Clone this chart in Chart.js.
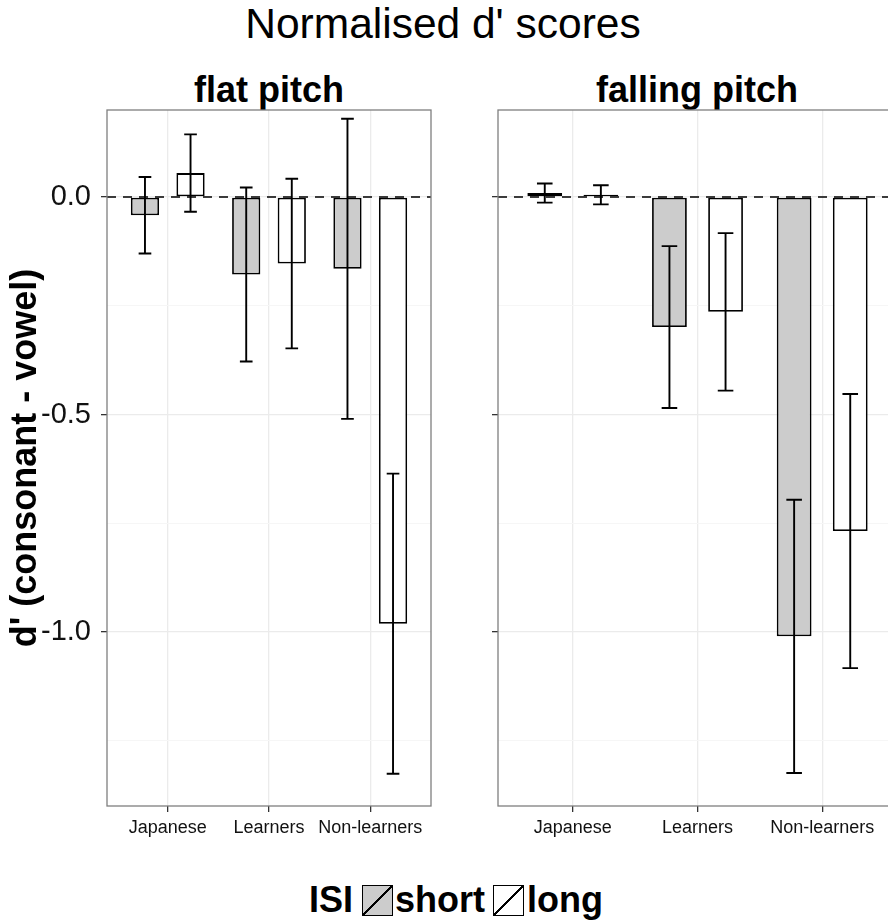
<!DOCTYPE html>
<html>
<head>
<meta charset="utf-8">
<script src="https://cdn.jsdelivr.net/npm/chart.js@4"></script>
<style>
  html, body { margin: 0; padding: 0; background: #fff; }
  body { width: 888px; height: 920px; overflow: hidden; position: relative;
         font-family: "Liberation Sans", Arial, sans-serif; color: #000; }
  canvas { position: absolute; }
  .txt { position: absolute; white-space: nowrap; line-height: 1; }
  .title { top: 3px; left: 0; width: 886px; text-align: center; font-size: 42.5px; }
  .strip { top: 72px; width: 400px; text-align: center; font-size: 36px; font-weight: bold; }
  .leg { top: 882px; font-size: 36px; font-weight: bold; }
  .key { position: absolute; top: 885px; width: 29px; height: 29px; border: 1px solid #000; }
  .key.short {
    background: linear-gradient(to top left, transparent calc(50% - 0.8px), #000 calc(50% - 0.8px),
                #000 calc(50% + 0.8px), transparent calc(50% + 0.8px)), #cccccc;
  }
  .key.long {
    background: linear-gradient(to top left, transparent calc(50% - 0.8px), #000 calc(50% - 0.8px),
                #000 calc(50% + 0.8px), transparent calc(50% + 0.8px)), #ffffff;
  }
</style>
</head>
<body>

<div class="txt title">Normalised d' scores</div>
<div class="txt strip" style="left:69px">flat pitch</div>
<div class="txt strip" style="left:497px">falling pitch</div>

<canvas id="flat" width="440" height="760" style="left:0; top:100px"></canvas>
<canvas id="falling" width="470" height="760" style="left:440px; top:100px"></canvas>

<div class="txt leg" style="left:309px">ISI</div>
<div class="key short" style="left:362px"></div>
<div class="txt leg" style="left:395px">short</div>
<div class="key long" style="left:493px"></div>
<div class="txt leg" style="left:527px">long</div>

<script>
// groups on the x axis
const groups = ['Japanese', 'Learners', 'Non-learners'];

// flat pitch: means and error half-widths (short / long ISI)
const flatShort = [-0.042, -0.178, -0.165];
const flatShortErr = [0.088, 0.200, 0.345];
const flatLong = [0.055, -0.153, -0.981];
const flatLongErr = [0.089, 0.195, 0.345];

// falling pitch
const fallShort = [0.009, -0.299, -1.010];
const fallShortErr = [0.022, 0.186, 0.314];
const fallLong = [0.005, -0.264, -0.768];
const fallLongErr = [0.022, 0.181, 0.315];

// y axis
const yMajor = [0, -0.5, -1.0];
const yMinor = [-0.25, -0.75, -1.25];
const yMin = -1.4, yMax = 0.2;

const FONT = '"Liberation Sans", Arial, sans-serif';
const capHalf = 0.0625; // half width of error bar caps, in x units

// dashed zero line, error bars and the panel frame
const panelDecor = {
    id: 'panelDecor',
    afterDatasetsDraw(chart) {
        const { ctx, chartArea: a, scales: { x, y } } = chart;
        ctx.save();

        const y0 = y.getPixelForValue(0);
        ctx.beginPath();
        ctx.setLineDash([9, 7]);
        ctx.lineWidth = 1.6;
        ctx.strokeStyle = '#000';
        ctx.moveTo(a.left, y0);
        ctx.lineTo(a.right, y0);
        ctx.stroke();
        ctx.setLineDash([]);

        const cap = x.getPixelForValue(1 + capHalf) - x.getPixelForValue(1);
        ctx.lineWidth = 1.9;
        chart.data.datasets.forEach((ds, di) => {
            const meta = chart.getDatasetMeta(di);
            meta.data.forEach((bar, i) => {
                const m = ds.data[i].y;
                const e = ds.errors[i];
                const hi = y.getPixelForValue(m + e);
                const lo = y.getPixelForValue(m - e);
                ctx.beginPath();
                ctx.moveTo(bar.x, hi); ctx.lineTo(bar.x, lo);
                ctx.moveTo(bar.x - cap, hi); ctx.lineTo(bar.x + cap, hi);
                ctx.moveTo(bar.x - cap, lo); ctx.lineTo(bar.x + cap, lo);
                ctx.stroke();
            });
        });

        ctx.strokeStyle = '#7f7f7f';
        ctx.lineWidth = 1.3;
        ctx.strokeRect(a.left, a.top, a.right - a.left, a.bottom - a.top);
        ctx.restore();
    }
};

function toPoints(vals) {
    return vals.map((v, i) => ({ x: i + 1, y: v }));
}

function makePanel(id, shortVals, shortErr, longVals, longErr, axisWidth, padRight, showY) {
    return new Chart(document.getElementById(id), {
        type: 'bar',
        data: {
            datasets: [{
                label: 'short',
                data: toPoints(shortVals),
                errors: shortErr,
                backgroundColor: '#cccccc',
                borderColor: '#000',
                borderWidth: 1.8,
                borderSkipped: false
            }, {
                label: 'long',
                data: toPoints(longVals),
                errors: longErr,
                backgroundColor: '#ffffff',
                borderColor: '#000',
                borderWidth: 1.8,
                borderSkipped: false
            }]
        },
        options: {
            responsive: false,
            animation: false,
            devicePixelRatio: 1,
            categoryPercentage: 0.9,
            barPercentage: 0.62,
            layout: { padding: { top: 10, right: padRight, bottom: 0, left: 0 } },
            plugins: { legend: { display: false }, tooltip: { enabled: false } },
            scales: {
                x: {
                    type: 'linear',
                    min: 0.4,
                    max: 3.6,
                    offset: false,
                    afterBuildTicks: s => { s.ticks = groups.map((g, i) => ({ value: i + 1 })); },
                    afterFit: s => { s.height = 54; s.paddingLeft = 0; s.paddingRight = 0; },
                    ticks: {
                        padding: 5,
                        color: '#111',
                        font: { family: FONT, size: 18 },
                        callback: v => groups[v - 1]
                    },
                    grid: {
                        offset: false,
                        color: '#ebebeb',
                        lineWidth: 1.3,
                        tickLength: 6,
                        tickColor: '#333',
                        tickWidth: 1.3
                    },
                    border: { display: false }
                },
                y: {
                    min: yMin,
                    max: yMax,
                    afterBuildTicks: s => {
                        s.ticks = yMajor.concat(yMinor).sort((a, b) => a - b).map(v => ({ value: v }));
                    },
                    afterFit: s => { s.width = axisWidth; s.paddingTop = 0; s.paddingBottom = 0; },
                    ticks: {
                        padding: 10,
                        color: '#111',
                        font: { family: FONT, size: 29 },
                        callback: v => (showY && yMajor.includes(v)) ? v.toFixed(1) : ''
                    },
                    grid: {
                        color: c => yMajor.includes(c.tick.value) ? '#ebebeb' : '#f6f6f6',
                        lineWidth: c => yMajor.includes(c.tick.value) ? 1.3 : 1,
                        tickLength: 6,
                        tickColor: c => yMajor.includes(c.tick.value) ? '#333' : 'rgba(0,0,0,0)',
                        tickWidth: 1.3
                    },
                    border: { display: false },
                    title: {
                        display: showY,
                        text: "d' (consonant - vowel)",
                        color: '#000',
                        padding: { top: 4, bottom: 0 },
                        font: { family: FONT, size: 36, weight: 'bold' }
                    }
                }
            }
        },
        plugins: [panelDecor]
    });
}

makePanel('flat', flatShort, flatShortErr, flatLong, flatLongErr, 107, 9, true);
makePanel('falling', fallShort, fallShortErr, fallLong, fallLongErr, 58, 13, false);
</script>
</body>
</html>
